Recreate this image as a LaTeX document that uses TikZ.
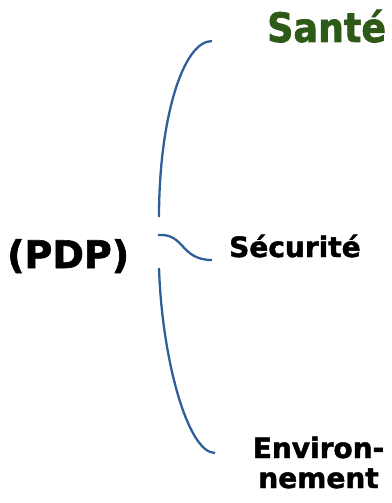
\documentclass[tikz,border=0pt]{standalone}
\usepackage{fontspec}
\setmainfont[BoldFeatures={FakeBold=1.6}]{DejaVu Sans}
\newfontfamily\narrowfont[FakeStretch=0.9,BoldFeatures={FakeBold=1.6}]{DejaVu Sans}
\definecolor{bracecol}{HTML}{2F5F98}
\definecolor{santecol}{HTML}{2D5A16}
\begin{document}
\begin{tikzpicture}[x=1pt,y=-1pt,
  lbl/.style={inner sep=0pt,anchor=base west,font=\bfseries\fontsize{28}{30}\selectfont},
  bracestroke/.style={draw=bracecol,line width=2.3pt}]
\useasboundingbox (0,0) rectangle (391,503);
% labels
\node[lbl,text=santecol,font=\narrowfont\bfseries\fontsize{40.5}{44}\selectfont] (sante) at (267,42) {Santé};
\node[lbl] (securite) at (229,257) {Sécurité};
\node[lbl,font=\bfseries\fontsize{38}{40}\selectfont] (pdp) at (7,268) {(PDP)};
\node[lbl,anchor=base] (env1) at (318.5,458) {Environ-};
\node[lbl,anchor=base] (env2) at (318.5,488) {nement};
% brace anchors
\coordinate (topA) at (212,41);
\coordinate (topB) at (159,217);
\coordinate (midA) at (158,235);
\coordinate (midB) at (212,260);
\coordinate (botA) at (159,268);
\coordinate (botB) at (215,453);
% brace strokes
\draw[bracestroke] (topA) .. controls (182.7,41) and (159,119.8) .. (topB);
\draw[bracestroke] (midA) .. controls (185,233) and (180,260) .. (midB);
\draw[bracestroke] (botA) .. controls (162,360) and (188,453) .. (botB);
\end{tikzpicture}
\end{document}
